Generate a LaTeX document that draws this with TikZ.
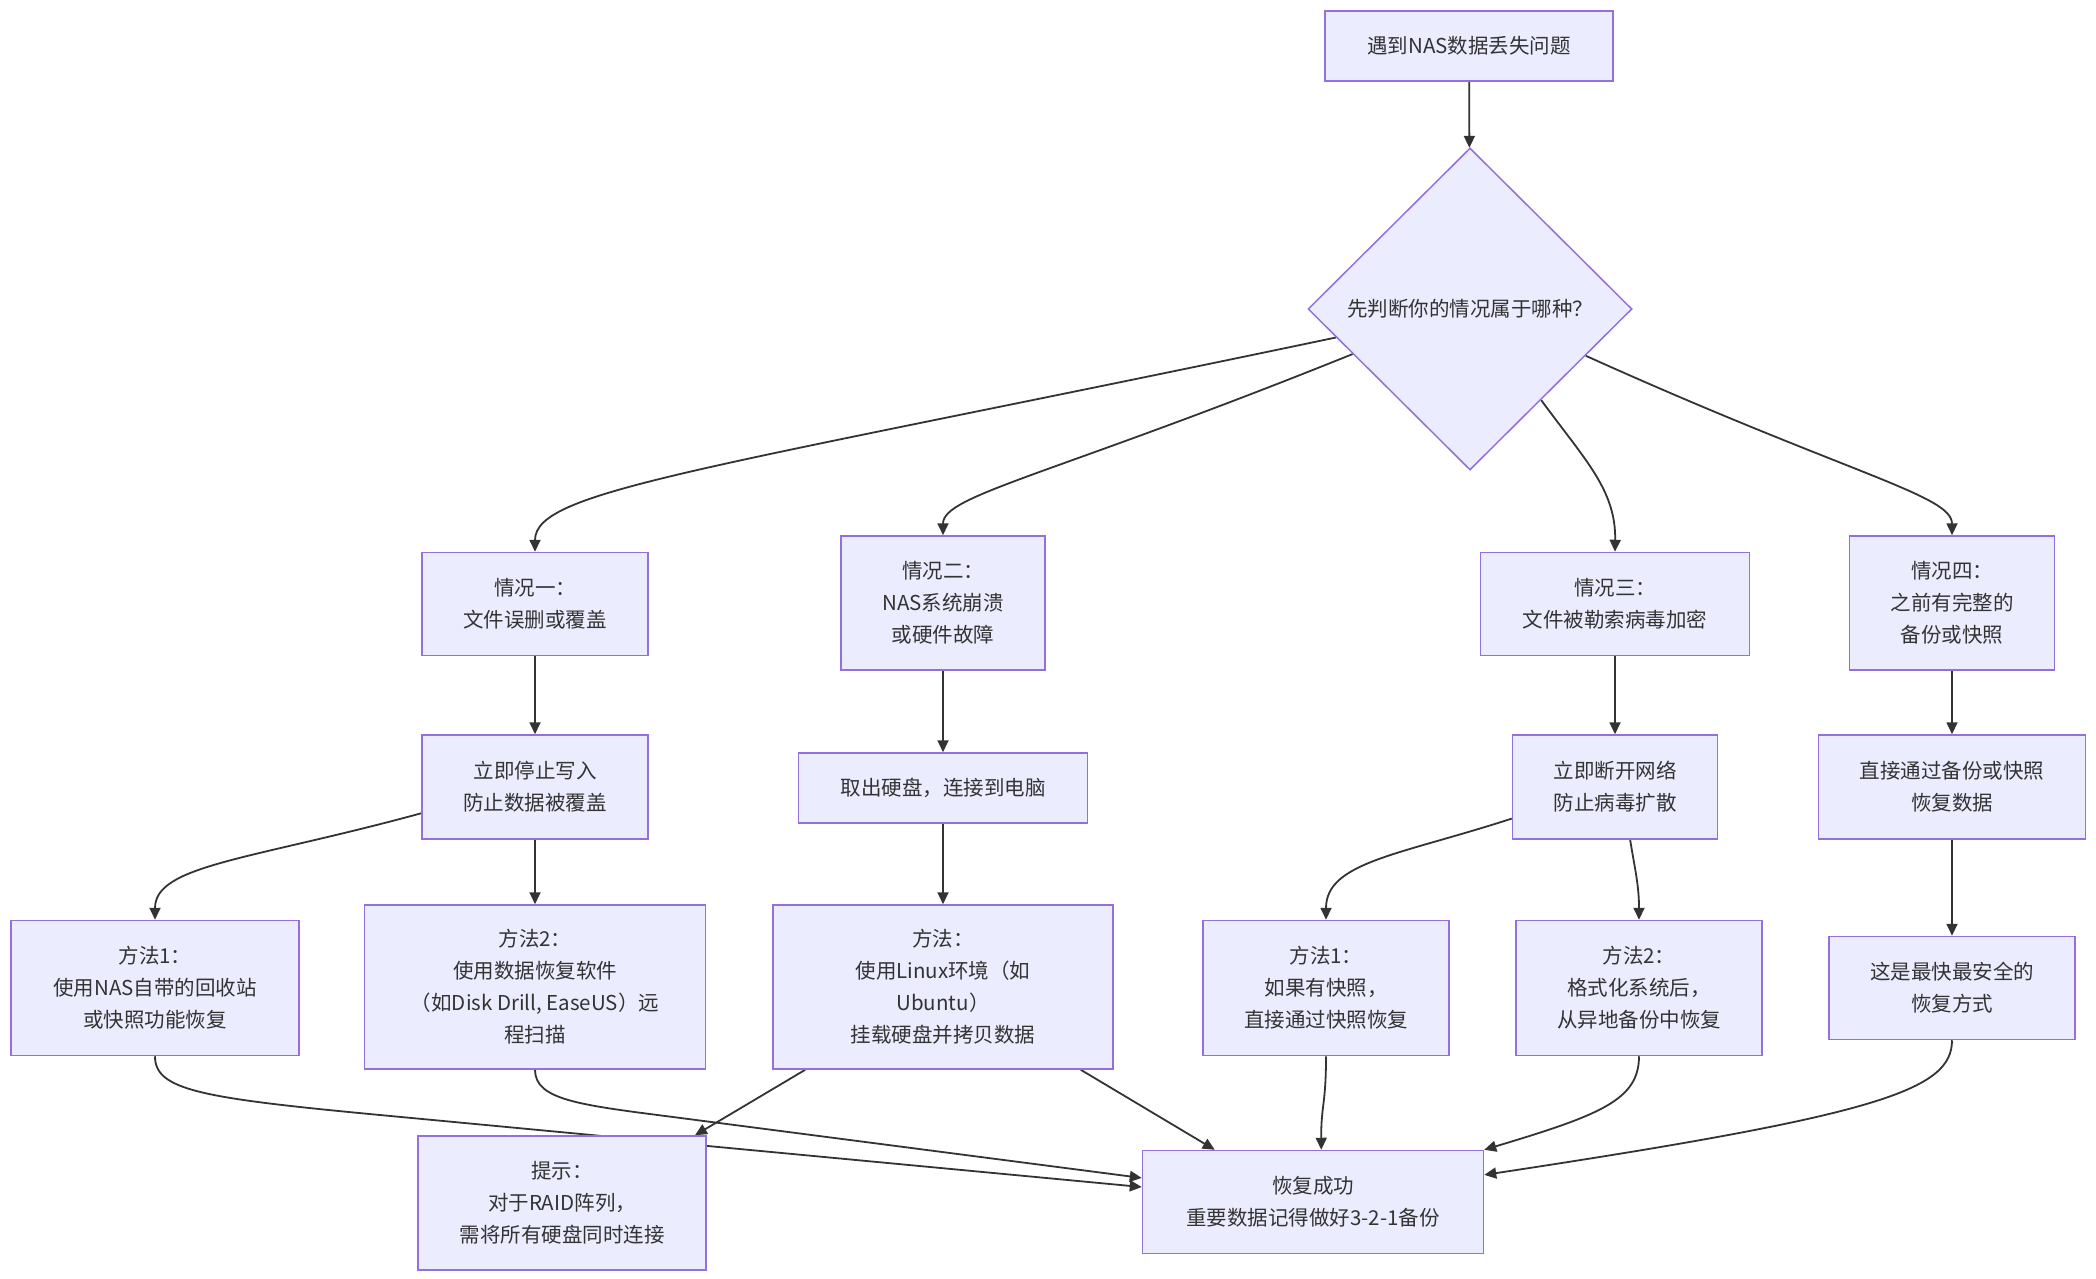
\documentclass[tikz,border=0pt]{standalone}
\usepackage{fontspec}
\setmainfont{Noto Sans CJK SC}
\usepackage{tikz}
\usepackage{xcolor}
\usetikzlibrary{shapes,arrows.meta,positioning,backgrounds}
\definecolor{boxfill}{HTML}{ECECFF}
\definecolor{boxline}{HTML}{9370DB}
\definecolor{edgecol}{HTML}{333333}

\begin{document}
\begin{tikzpicture}[x=1pt,y=1pt,
    box/.style={draw=boxline, fill=boxfill, line width=1.5pt, align=center, inner sep=0pt,
        text=edgecol, font=\fontsize{20.5}{32}\selectfont},
    link/.style={draw=edgecol, line width=1.8pt, -{Triangle[length=12pt,width=11pt]}}]
        \useasboundingbox (0,0) rectangle (2096,-1279);
        \node[box, minimum width=288pt, minimum height=70pt] (start) at (1469,-46) {遇到NAS数据丢失问题};
        \node[box, shape=diamond, minimum width=324pt, minimum height=322pt] (dia) at (1470,-309) {先判断你的情况属于哪种？};
        \node[box, minimum width=226pt, minimum height=103pt] (c1) at (535,-604) {情况一：\\文件误删或覆盖};
        \node[box, minimum width=204pt, minimum height=134pt] (c2) at (943,-603) {情况二：\\NAS系统崩溃\\或硬件故障};
        \node[box, minimum width=269pt, minimum height=103pt] (c3) at (1615,-604) {情况三：\\文件被勒索病毒加密};
        \node[box, minimum width=205pt, minimum height=134pt] (c4) at (1952,-603) {情况四：\\之前有完整的\\备份或快照};
        \node[box, minimum width=226pt, minimum height=104pt] (stop) at (535,-787) {立即停止写入\\防止数据被覆盖};
        \node[box, minimum width=289pt, minimum height=70pt] (take) at (943,-788) {取出硬盘，连接到电脑};
        \node[box, minimum width=205pt, minimum height=104pt] (dis) at (1615,-787) {立即断开网络\\防止病毒扩散};
        \node[box, minimum width=267pt, minimum height=104pt] (dir) at (1952,-787) {直接通过备份或快照\\恢复数据};
        \node[box, minimum width=288pt, minimum height=135pt] (m1) at (155,-988) {方法1：\\使用NAS自带的回收站\\或快照功能恢复};
        \node[box, minimum width=341pt, minimum height=164pt] (m2) at (535,-987) {方法2：\\使用数据恢复软件\\（如Disk Drill, EaseUS）远\\程扫描};
        \node[box, minimum width=340pt, minimum height=164pt] (lin) at (943,-987) {方法：\\使用Linux环境（如\\Ubuntu）\\挂载硬盘并拷贝数据};
        \node[box, minimum width=246pt, minimum height=135pt] (snap) at (1326,-988) {方法1：\\如果有快照，\\直接通过快照恢复};
        \node[box, minimum width=246pt, minimum height=135pt] (fmt) at (1639,-988) {方法2：\\格式化系统后，\\从异地备份中恢复};
        \node[box, minimum width=246pt, minimum height=103pt] (fast) at (1952,-988) {这是最快最安全的\\恢复方式};
        \node[box, minimum width=288pt, minimum height=134pt] (tip) at (562,-1203) {提示：\\对于RAID阵列，\\需将所有硬盘同时连接};
        \node[box, minimum width=341pt, minimum height=103pt] (succ) at (1313,-1202) {恢复成功\\重要数据记得做好3-2-1备份};
        \begin{scope}[on background layer]
        \fill[white] (0,0) rectangle (2096,-1279);
        \draw[link] (start) -- (dia);
        \draw[link] (dia.192) .. controls (700,-471) and (535,-490) .. (c1.north);
        \draw[link] (dia.201) .. controls (1050,-476) and (943,-495) .. (c2.north);
        \draw[link] (dia.308) .. controls (1585,-460) and (1616,-490) .. (c3.north);
        \draw[link] (dia.338) .. controls (1850,-475) and (1952,-495) .. (c4.north);
        \draw[link] (c1) -- (stop);
        \draw[link] (c2) -- (take);
        \draw[link] (c3) -- (dis);
        \draw[link] (c4) -- (dir);
        \draw[link] (stop.193) .. controls (250,-860) and (155,-865) .. (m1.north);
        \draw[link] (stop) -- (m2);
        \draw[link] (take) -- (lin);
        \draw[link] (dis.197) .. controls (1400,-855) and (1326,-862) .. (snap.north);
        \draw[link] (dis.286) .. controls (1635,-870) and (1639,-885) .. (fmt.north);
        \draw[link] (dir) -- (fast);
        \draw[link] (m1.south) .. controls (155,-1090) and (200,-1098) .. (380,-1115) -- (succ.175);
        \draw[link] (m2.south) .. controls (535,-1100) and (580,-1105) .. (673,-1117) -- (succ.172);
        \draw[link] (lin.211) -- (tip.27);
        \draw[link] (lin.329) -- (succ.152);
        \draw[link] (snap.south) .. controls (1326,-1105) and (1321,-1105) .. (succ.81);
        \draw[link] (fmt.south) .. controls (1639,-1100) and (1600,-1115) .. (succ.north east);
        \draw[link] (fast.south) .. controls (1952,-1090) and (1880,-1115) .. (succ.9);
        \end{scope}
\end{tikzpicture}
\end{document}
